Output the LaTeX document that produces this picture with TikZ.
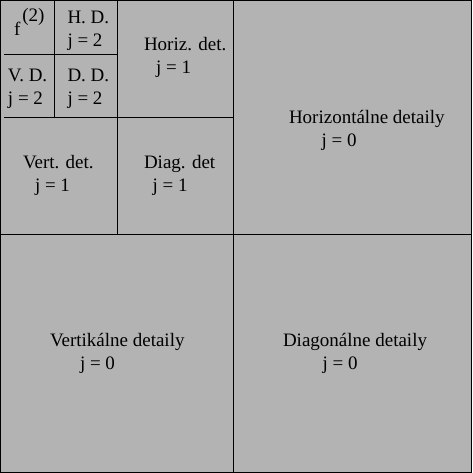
\documentclass[tikz,border=0pt]{standalone}
\usepackage{fontspec}
\setmainfont{Liberation Serif}
\definecolor{panelgrey}{RGB}{179,179,179}
\begin{document}
\begin{tikzpicture}[x=1pt,y=-1pt,
  txt/.style={anchor=base west,inner sep=0pt,outer sep=0pt,font=\fontsize{19}{23}\selectfont},
  grid/.style={draw=black,line width=1pt}]
\useasboundingbox (0,0) rectangle (472,473);
\fill[panelgrey] (0,0) rectangle (472,473);
% outer border
\draw[grid] (0.5,0.5) rectangle (471.5,472.5);
% main quadrants
\draw[grid] (233.5,0) -- (233.5,473);
\draw[grid] (0,234.5) -- (472,234.5);
% level 1 subdivisions
\draw[grid] (117.5,0) -- (117.5,234.5);
\draw[grid] (4,117.5) -- (233.5,117.5);
% level 2 subdivisions
\draw[grid] (54.5,0) -- (54.5,117.5);
\draw[grid] (4,54.5) -- (117.5,54.5);
% texts
\node[txt] (f2) at (14,36) {f\hspace{2pt}\raisebox{14pt}{(2)}};
\node[txt] (hd) at (67.5,24) {H. D.};
\node[txt] (hdj) at (67.5,47) {j = 2};
\node[txt] (vd) at (8,82) {V. D.};
\node[txt] (vdj) at (8,105) {j = 2};
\node[txt] (dd) at (67.5,82) {D. D.};
\node[txt] (ddj) at (67.5,105) {j = 2};
\node[txt] (hor1) at (144,51) {Horiz. det.};
\node[txt] (hor1j) at (156,74) {j = 1};
\node[txt] (ver1) at (23,168.5) {Vert. det.};
\node[txt] (ver1j) at (35,191.5) {j = 1};
\node[txt] (dia1) at (144,168.5) {Diag. det};
\node[txt] (dia1j) at (152.5,191.5) {j = 1};
\node[txt] (hor0) at (289,123.5) {Horizontálne detaily};
\node[txt] (hor0j) at (321.5,146.5) {j = 0};
\node[txt] (ver0) at (50,346) {Vertikálne detaily};
\node[txt] (ver0j) at (80,369) {j = 0};
\node[txt] (dia0) at (283,346) {Diagonálne detaily};
\node[txt] (dia0j) at (322.5,369) {j = 0};
\end{tikzpicture}
\end{document}
